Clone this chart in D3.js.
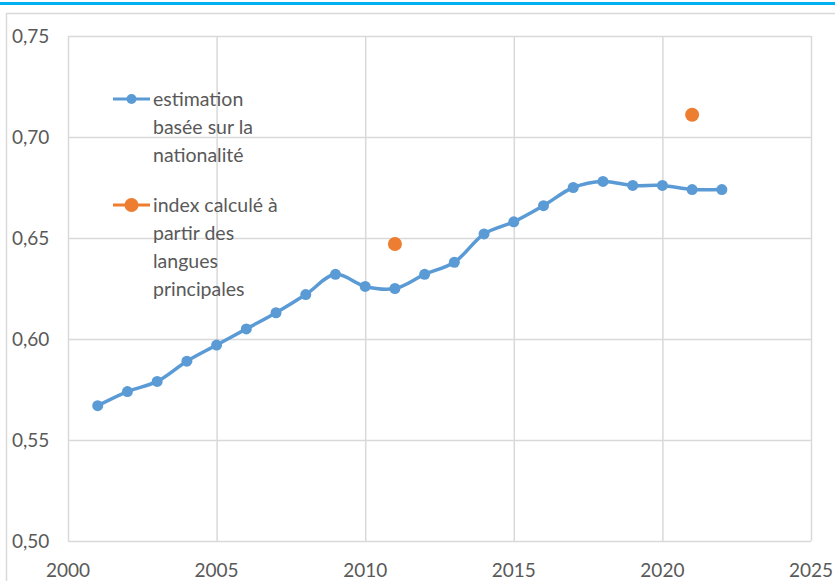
<!DOCTYPE html>
<html>
<head>
<meta charset="utf-8">
<script src="https://cdn.jsdelivr.net/npm/d3@7"></script>
<style>
  html, body { margin: 0; padding: 0; background: #fff; }
  svg { display: block; }
  text { font-family: Lato, "Open Sans", sans-serif; fill: #595959; }
</style>
</head>
<body>
<svg id="chart" width="835" height="581"></svg>
<script>
// Diversity index by year
const years = [2001, 2002, 2003, 2004, 2005, 2006, 2007, 2008, 2009, 2010, 2011,
               2012, 2013, 2014, 2015, 2016, 2017, 2018, 2019, 2020, 2021, 2022];
const nationalityEstimate = [0.567, 0.574, 0.579, 0.589, 0.597, 0.605, 0.613, 0.622, 0.632, 0.626, 0.625,
                             0.632, 0.638, 0.652, 0.658, 0.666, 0.675, 0.678, 0.676, 0.676, 0.674, 0.674];
const languageYears = [2011, 2021];
const languageIndex = [0.647, 0.711];

const xTicks = [2000, 2005, 2010, 2015, 2020, 2025];
const yTicks = [0.50, 0.55, 0.60, 0.65, 0.70, 0.75];

const legendBlue = ["estimation", "basée sur la", "nationalité"];
const legendOrange = ["index calculé à", "partir des", "langues", "principales"];

const blue = "#5B9BD5";
const orange = "#ED7D31";
const grid = "#D9D9D9";

const svg = d3.select("#chart");

// header rule and chart frame
svg.append("rect").attr("x", 0).attr("y", 2).attr("width", 835).attr("height", 3).attr("fill", "#00B0F0");
svg.append("path").attr("d", "M6.5,581 V13.5 H835").attr("fill", "none").attr("stroke", grid).attr("stroke-width", 1.5);

const x = d3.scaleLinear().domain([2000, 2025]).range([68, 811]);
const y = d3.scaleLinear().domain([0.50, 0.75]).range([541, 36]);

const fmt = d => d3.format(".2f")(d).replace(".", ",");

// gridlines
svg.append("g")
  .attr("transform", "translate(68,0)")
  .call(d3.axisLeft(y).tickValues(yTicks).tickSize(-(811 - 68)).tickFormat(""))
  .call(g => g.select(".domain").remove())
  .call(g => g.selectAll("line").attr("stroke", grid).attr("stroke-width", 1.5));

svg.append("g")
  .attr("transform", "translate(0,541)")
  .call(d3.axisBottom(x).tickValues(xTicks).tickSize(-(541 - 36)).tickFormat(""))
  .call(g => g.select(".domain").remove())
  .call(g => g.selectAll("line").attr("stroke", grid).attr("stroke-width", 1.5));

// tick labels
svg.append("g").selectAll("text").data(yTicks).join("text")
  .attr("x", 12).attr("y", d => y(d)).attr("dy", "0.35em")
  .attr("font-size", 19).text(fmt);

svg.append("g").selectAll("text").data(xTicks).join("text")
  .attr("x", d => x(d)).attr("y", 577).attr("text-anchor", "middle")
  .attr("font-size", 19).text(d => d);

// nationality-based series
const pts = years.map((yr, i) => [yr, nationalityEstimate[i]]);
const line = d3.line().x(d => x(d[0])).y(d => y(d[1])).curve(d3.curveCatmullRom.alpha(0.5));
svg.append("path").datum(pts).attr("d", line)
  .attr("fill", "none").attr("stroke", blue).attr("stroke-width", 3.5).attr("stroke-linejoin", "round");
svg.append("g").selectAll("circle").data(pts).join("circle")
  .attr("cx", d => x(d[0])).attr("cy", d => y(d[1])).attr("r", 5.5).attr("fill", blue);

// main-language index
svg.append("g").selectAll("circle").data(languageYears.map((yr, i) => [yr, languageIndex[i]])).join("circle")
  .attr("cx", d => x(d[0])).attr("cy", d => y(d[1])).attr("r", 7).attr("fill", orange);

// legend
function legendItem(top, color, r, lines) {
  const g = svg.append("g");
  g.append("line").attr("x1", 113).attr("x2", 150).attr("y1", top).attr("y2", top)
    .attr("stroke", color).attr("stroke-width", 3);
  g.append("circle").attr("cx", 131.5).attr("cy", top).attr("r", r).attr("fill", color);
  g.selectAll("text").data(lines).join("text")
    .attr("x", 153).attr("y", (d, i) => top + i * 28).attr("dy", "0.35em")
    .attr("font-size", 19.5).text(d => d);
}
legendItem(99, blue, 5, legendBlue);
legendItem(205, orange, 7, legendOrange);
</script>
</body>
</html>
